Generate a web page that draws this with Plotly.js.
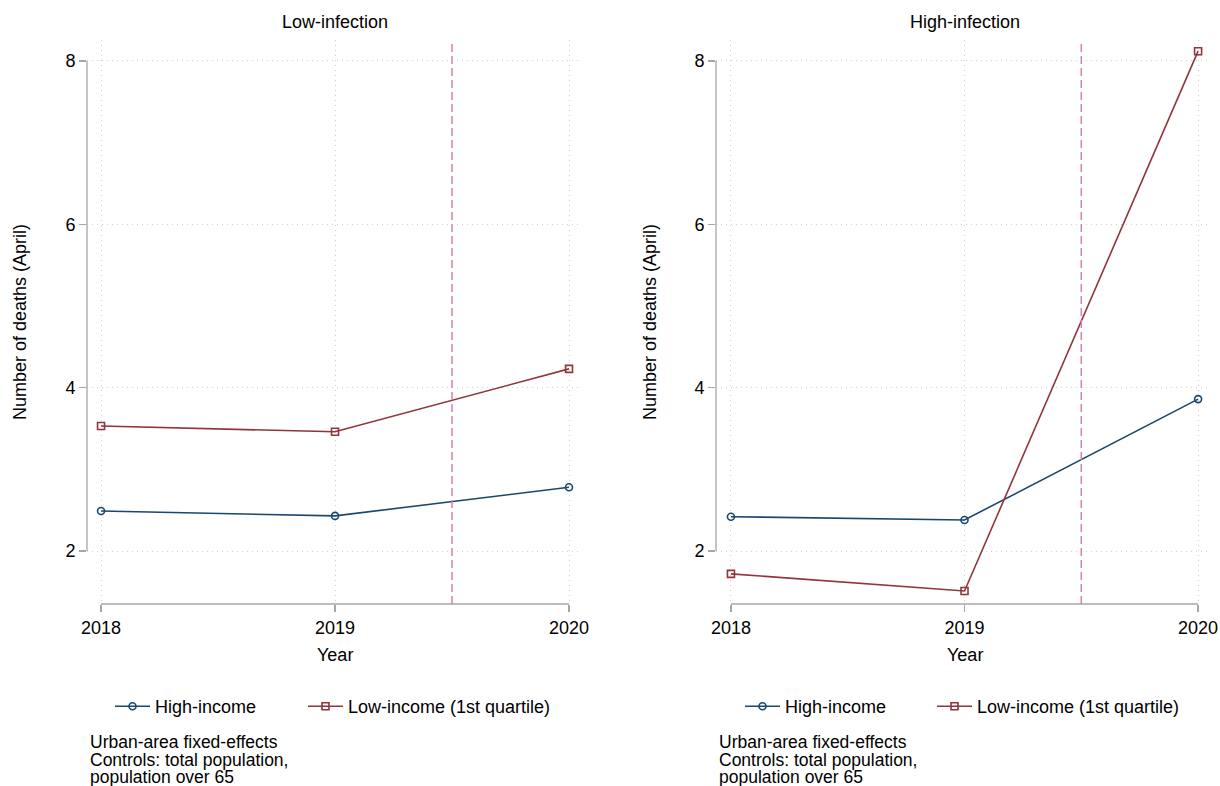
<!DOCTYPE html>
<html>
<head>
<meta charset="utf-8">
<script src="https://cdn.plot.ly/plotly-3.0.1.min.js"></script>
<style>
  html, body { margin: 0; padding: 0; background: #fff; }
  #chart { width: 1220px; height: 786px; }
</style>
</head>
<body>
<div id="chart"></div>
<script>
// ---- data ----
const years = [2018, 2019, 2020];
const lowInfHighIncome = [2.49, 2.43, 2.78];
const lowInfLowIncome = [3.53, 3.46, 4.23];
const highInfHighIncome = [2.42, 2.38, 3.86];
const highInfLowIncome = [1.72, 1.51, 8.12];
const yTicks = [2, 4, 6, 8];
const seriesNames = ['High-income', 'Low-income (1st quartile)'];
const panelTitles = ['Low-infection', 'High-infection'];
const eventYear = 2019.5;
const xTitle = 'Year';
const yTitle = 'Number of deaths (April)';
const noteLines = ['Urban-area fixed-effects', 'Controls: total population,', 'population over 65'];

// ---- styles ----
const W = 1220, H = 786;
const navy = '#1a476f';
const maroon = '#90353b';
const pink = '#d67fb0';
const axisGray = '#a6a6a6';
const FONT = 'Liberation Sans, Arial, Helvetica, sans-serif';

function px2x(p) { return p / W; }
function px2y(p) { return 1 - p / H; }

const yDom = [px2y(604), px2y(40)];
const xDom1 = [px2x(87), px2x(580)];
const xDom2 = [px2x(716), px2x(1210)];

function mkTrace(xa, ya, y, name, color, symbol, legend) {
  return {
    x: years, y: y, name: name, xaxis: xa, yaxis: ya,
    type: 'scatter', mode: 'lines+markers',
    line: { color: color, width: 1.6 },
    marker: { symbol: symbol, size: 7, color: color, line: { color: color, width: 1.6 } },
    legend: legend, showlegend: true
  };
}

const data = [
  mkTrace('x', 'y', lowInfHighIncome, seriesNames[0], navy, 'circle-open', 'legend'),
  mkTrace('x', 'y', lowInfLowIncome, seriesNames[1], maroon, 'square-open', 'legend2'),
  mkTrace('x2', 'y2', highInfHighIncome, seriesNames[0], navy, 'circle-open', 'legend3'),
  mkTrace('x2', 'y2', highInfLowIncome, seriesNames[1], maroon, 'square-open', 'legend4')
];

const tickFont = { family: FONT, size: 18, color: '#000' };

function xAxis(dom, range, anchor) {
  return {
    domain: dom, range: range, anchor: anchor,
    tickvals: years, ticktext: years.map(String),
    showline: false, zeroline: false,
    showgrid: true, gridcolor: '#cfcfcf', gridwidth: 1, griddash: '1px,4px',
    ticks: 'outside', ticklen: 7, tickcolor: axisGray, tickwidth: 1.2,
    tickfont: tickFont, automargin: false, fixedrange: true
  };
}
function yAxis(range, anchor) {
  return {
    domain: yDom, range: range, anchor: anchor,
    tickvals: yTicks, ticktext: yTicks.map(String),
    showline: false, zeroline: false,
    showgrid: true, gridcolor: '#cfcfcf', gridwidth: 1, griddash: '1px,4px',
    ticks: 'outside', ticklen: 7, tickcolor: axisGray, tickwidth: 1.2,
    tickfont: tickFont, automargin: false, fixedrange: true
  };
}

const yRange = [1.351, 8.257];

const shapes = [];
const panels = [['x', 'y'], ['x2', 'y2']];
panels.forEach(function (p) {
  shapes.push({ type: 'line', xref: p[0] + ' domain', yref: p[1],
    x0: 0, x1: 0, y0: yTicks[0], y1: yTicks[yTicks.length - 1],
    line: { color: axisGray, width: 1.3 } });
  shapes.push({ type: 'line', xref: p[0], yref: p[1] + ' domain',
    x0: years[0], x1: years[years.length - 1], y0: 0, y1: 0,
    line: { color: axisGray, width: 1.3 } });
  shapes.push({ type: 'line', xref: p[0], yref: p[1] + ' domain',
    x0: eventYear, x1: eventYear, y0: 0, y1: 0.995,
    line: { color: pink, width: 1.5, dash: '8px,4px' } });
});

const annFont = { family: FONT, size: 18, color: '#000' };
const noteFont = { family: FONT, size: 17.5, color: '#000' };
const annotations = [];
const centers = [335, 964.5];
const yTitleX = [20, 650];
const noteX = [91, 720];
const noteY = [742, 760, 777];
[0, 1].forEach(function (i) {
  annotations.push({ text: panelTitles[i], xref: 'paper', yref: 'paper',
    x: px2x(centers[i]), y: px2y(22), xanchor: 'center', yanchor: 'middle',
    showarrow: false, font: annFont });
  annotations.push({ text: xTitle, xref: 'paper', yref: 'paper',
    x: px2x(centers[i]), y: px2y(655), xanchor: 'center', yanchor: 'middle',
    showarrow: false, font: annFont });
  annotations.push({ text: yTitle, xref: 'paper', yref: 'paper', textangle: -90,
    x: px2x(yTitleX[i]), y: px2y(322), xanchor: 'center', yanchor: 'middle',
    showarrow: false, font: annFont });
  noteLines.forEach(function (t, j) {
    annotations.push({ text: t, xref: 'paper', yref: 'paper', align: 'left',
      x: px2x(noteX[i] - 2), y: px2y(noteY[j]), xanchor: 'left', yanchor: 'middle',
      showarrow: false, font: noteFont, borderpad: 0 });
  });
});

function legendCfg(xp) {
  return {
    orientation: 'h', x: px2x(xp), y: px2y(688), xanchor: 'left', yanchor: 'top',
    font: { family: FONT, size: 18, color: '#000' },
    bgcolor: 'rgba(0,0,0,0)', borderwidth: 0, itemclick: false, itemdoubleclick: false,
    itemwidth: 35
  };
}

const layout = {
  width: W, height: H,
  margin: { l: 0, r: 0, t: 0, b: 0 },
  paper_bgcolor: '#fff', plot_bgcolor: '#fff',
  font: { family: FONT, size: 18, color: '#000' },
  xaxis: xAxis(xDom1, [2017.94, 2020.047], 'y'),
  yaxis: yAxis(yRange, 'x'),
  xaxis2: xAxis(xDom2, [2017.936, 2020.051], 'y2'),
  yaxis2: yAxis(yRange, 'x2'),
  legend: legendCfg(110),
  legend2: legendCfg(303),
  legend3: legendCfg(740),
  legend4: legendCfg(932),
  shapes: shapes,
  annotations: annotations,
  hovermode: false
};

Plotly.newPlot('chart', data, layout, { displayModeBar: false, staticPlot: true });
</script>
</body>
</html>
